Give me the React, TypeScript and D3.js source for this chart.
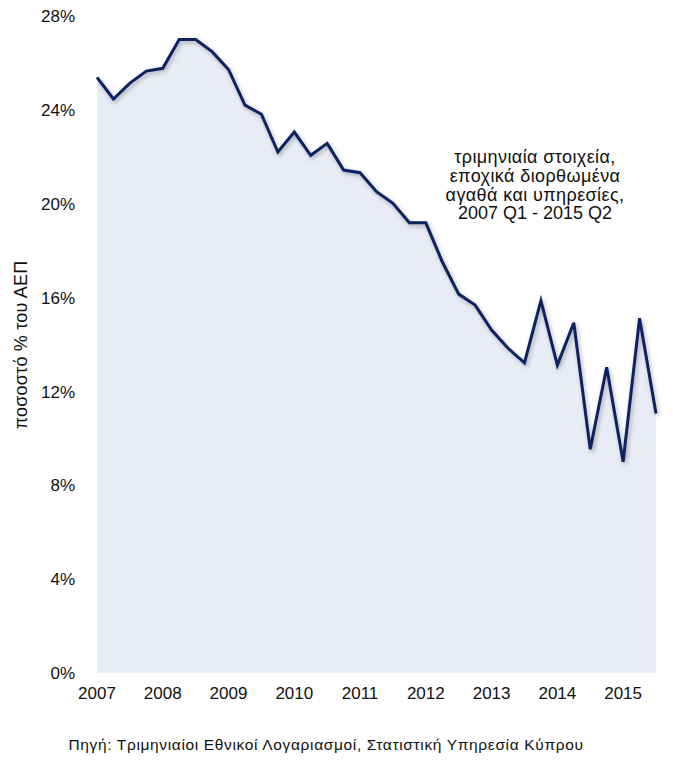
import React from "react";
import * as d3 from "d3";

const quarterIndex: number[] = [
  0, 1, 2, 3, 4, 5, 6, 7, 8, 9, 10, 11, 12, 13, 14, 15, 16, 17,
  18, 19, 20, 21, 22, 23, 24, 25, 26, 27, 28, 29, 30, 31, 32, 33, 34,
];
const shareOfGdp: number[] = [
  25.4, 24.48, 25.16, 25.67, 25.79, 27.02, 27.02, 26.5, 25.74, 24.22,
  23.83, 22.22, 23.07, 22.08, 22.59, 21.45, 21.34, 20.53, 20.03, 19.2,
  19.2, 17.54, 16.16, 15.69, 14.63, 13.85, 13.23, 15.88, 13.13, 14.94,
  9.54, 13.04, 9.01, 15.13, 11.07,
];
const yearLabels: string[] = ["2007", "2008", "2009", "2010", "2011", "2012", "2013", "2014", "2015"];
const yearTickIndex: number[] = [0, 4, 8, 12, 16, 20, 24, 28, 32];
const yTicks: number[] = [0, 4, 8, 12, 16, 20, 24, 28];
const noteLines: string[] = [
  "τριμηνιαία στοιχεία,",
  "εποχικά διορθωμένα",
  "αγαθά και υπηρεσίες,",
  "2007 Q1 - 2015 Q2",
];
const yTitle = "ποσοστό % του ΑΕΠ";
const sourceText = "Πηγή: Τριμηνιαίοι Εθνικοί Λογαριασμοί, Στατιστική Υπηρεσία Κύπρου";

const W = 673;
const H = 766;
const FONT = "'Liberation Sans', Arial, Helvetica, sans-serif";

export default function App() {
  const x = d3.scaleLinear().domain([0, 34]).range([97, 656]);
  const y = d3.scaleLinear().domain([0, 28]).range([673, 16.5]);

  const pts = quarterIndex.map((q, i) => ({ q, v: shareOfGdp[i] }));
  const area = d3
    .area<{ q: number; v: number }>()
    .x((d) => x(d.q))
    .y0(y(0))
    .y1((d) => y(d.v));
  const line = d3
    .line<{ q: number; v: number }>()
    .x((d) => x(d.q))
    .y((d) => y(d.v));

  return (
    <div style={{ position: "absolute", left: 0, top: 0 }}>
      <svg width={W} height={H} style={{ display: "block", background: "#fff" }}>
        <defs>
          <filter id="shadow" x="-10%" y="-10%" width="120%" height="120%">
            <feDropShadow dx="1.5" dy="2" stdDeviation="2" floodColor="#000" floodOpacity="0.3" />
          </filter>
        </defs>
        <path d={area(pts) || ""} fill="#e9ecf4" />
        <path
          d={line(pts) || ""}
          fill="none"
          stroke="#0b2161"
          strokeWidth={3}
          strokeLinejoin="miter"
          filter="url(#shadow)"
        />
        {yTicks.map((t) => (
          <text
            key={t}
            x={75}
            y={y(t)}
            dy="0.35em"
            textAnchor="end"
            fontFamily={FONT}
            fontSize={17}
            fill="#111"
          >
            {t + "%"}
          </text>
        ))}
        {yearLabels.map((lab, i) => (
          <text
            key={lab}
            x={x(yearTickIndex[i])}
            y={699}
            textAnchor="middle"
            fontFamily={FONT}
            fontSize={17}
            fill="#111"
          >
            {lab}
          </text>
        ))}
        <text
          transform={`translate(27,345) rotate(-90)`}
          textAnchor="middle"
          fontFamily={FONT}
          fontSize={18}
          letterSpacing={0.2}
          fill="#111"
        >
          {yTitle}
        </text>
        {noteLines.map((l, i) => (
          <text
            key={i}
            x={535}
            y={163 + i * 18.8}
            textAnchor="middle"
            fontFamily={FONT}
            fontSize={18}
            letterSpacing={i === 3 ? 0 : 0.4}
            fill="#111"
          >
            {l}
          </text>
        ))}
        <text
          x={326}
          y={750}
          textAnchor="middle"
          fontFamily={FONT}
          fontSize={15.5}
          letterSpacing={0.65}
          fill="#111"
        >
          {sourceText}
        </text>
      </svg>
    </div>
  );
}
